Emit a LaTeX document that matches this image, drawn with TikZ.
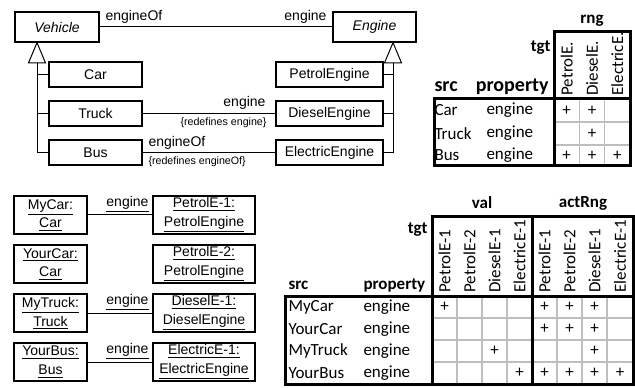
\documentclass[tikz,border=0pt]{standalone}
\usepackage{fontspec}
\setmainfont{Liberation Sans}
\newfontfamily\tabfont{Carlito}

\tikzset{every picture/.style={line width=0.75pt}}

\begin{document}
\begin{tikzpicture}[x=0.75pt,y=0.75pt,yscale=-1,xscale=1,
  cls/.style={draw, line width=1pt, inner sep=0pt, font=\fontsize{10.5}{12.6}\selectfont},
  obj/.style={draw, line width=1pt, inner sep=0pt, align=center, minimum height=28.5pt, font=\fontsize{10.5}{14.2}\selectfont},
  lbl/.style={inner sep=0.75pt, font=\fontsize{10.5}{12.6}\selectfont},
  small/.style={inner sep=0.75pt, font=\fontsize{8}{9}\selectfont},
  tab/.style={inner sep=0.75pt, font=\tabfont\fontsize{12.75}{15}\selectfont},
  tabb/.style={inner sep=0.75pt, font=\tabfont\bfseries\fontsize{12.75}{15}\selectfont},
  tabbig/.style={inner sep=0.75pt, font=\tabfont\bfseries\fontsize{15}{17}\selectfont},
  frame/.style={line width=2.25pt},
  gridline/.style={color={rgb, 255:red, 190; green, 190; blue, 190}, line width=1.1pt}
]
\path[use as bounding box] (0,0) rectangle (635,388);

%Shape: Class boxes
\node[cls, minimum width=63pt, minimum height=22.5pt] (vehicle) at (57,27) {\itshape Vehicle};
\node[cls, minimum width=62.25pt, minimum height=22.5pt] (engine) at (374.5,27) {\itshape Engine};
\node[cls, minimum width=69.75pt, minimum height=18.75pt] (car) at (95.5,74.5) {Car};
\node[cls, minimum width=69.75pt, minimum height=18.75pt] (truck) at (95.5,113.5) {Truck};
\node[cls, minimum width=69.75pt, minimum height=18.75pt] (bus) at (95.5,152.5) {Bus};
\node[cls, minimum width=80.25pt, minimum height=18.75pt] (petrol) at (329.5,74.5) {PetrolEngine};
\node[cls, minimum width=80.25pt, minimum height=18.75pt] (diesel) at (329.5,113.5) {DieselEngine};
\node[cls, minimum width=80.25pt, minimum height=18.75pt] (electric) at (329.5,152.5) {ElectricEngine};

%Straight Lines: generalizations
\coordinate (gv) at (37,63);
\coordinate (ge) at (393,63);
\foreach \c in {car,truck,bus} \draw (\c.west) -| (gv);
\foreach \c in {petrol,diesel,electric} \draw (\c.east) -| (ge);
\draw[fill=white] ([xshift=-6.4pt]gv) -- (vehicle.south -| gv) -- ([xshift=6.4pt]gv) -- cycle;
\draw[fill=white] ([xshift=-6.4pt]ge) -- (engine.south -| ge) -- ([xshift=6.4pt]ge) -- cycle;

%Straight Lines: associations
\draw (vehicle) -- (engine);
\draw (truck) -- (diesel);
\draw (bus) -- (electric);

% Text Node
\node[lbl, anchor=south west] (of1) at (104,25) {engineOf};
\node[lbl, anchor=south east] (en1) at (328,25) {engine};
\node[lbl, anchor=south east] (en2) at (267,111) {engine};
\node[small, anchor=north east] (rd1) at (268,116) {\{redefines engine\}};
\node[lbl, anchor=south west] (of2) at (147,151) {engineOf};
\node[small, anchor=north west] (rd2) at (147,155) {\{redefines engineOf\}};

%Shape: Object boxes
\node[obj, minimum width=54.75pt] (mycar) at (50.5,215) {\underline{MyCar:}\\\underline{Car}};
\node[obj, minimum width=54.75pt] (yourcar) at (50.5,264) {\underline{YourCar:}\\\underline{Car}};
\node[obj, minimum width=54.75pt] (mytruck) at (50.5,313) {\underline{MyTruck:}\\\underline{Truck}};
\node[obj, minimum width=54.75pt] (yourbus) at (50.5,362) {\underline{YourBus:}\\\underline{Bus}};
\node[obj, minimum width=76.5pt] (pe1) at (204,215) {\underline{PetrolE-1:}\\\underline{PetrolEngine}};
\node[obj, minimum width=76.5pt] (pe2) at (204,264) {\underline{PetrolE-2:}\\\underline{PetrolEngine}};
\node[obj, minimum width=76.5pt] (de1) at (204,313) {\underline{DieselE-1:}\\\underline{DieselEngine}};
\node[obj, minimum width=76.5pt] (ee1) at (204,362) {\underline{ElectricE-1:}\\\underline{ElectricEngine}};

%Straight Lines: links
\draw (mycar) -- (pe1);
\draw (mytruck) -- (de1);
\draw (yourbus) -- (ee1);
\node[lbl, anchor=south east] (ln1) at (150,214) {\underline{engine}};
\node[lbl, anchor=south east] (ln2) at (150,312) {\underline{engine}};
\node[lbl, anchor=south east] (ln3) at (150,361) {\underline{engine}};

%Table: rng
\foreach \y in {122,145} \draw[gridline] (554,\y) -- (630,\y);
\foreach \x in {579.3,604.7} \draw[gridline] (\x,99) -- (\x,166);
\draw[frame] (554,32) rectangle (630,166);
\draw[frame] (434,99) rectangle (630,166);
\node[tabb] (rng) at (592,21) {rng};
\node[tabb, anchor=east] (tgt1) at (552,48) {tgt};
\node[tabbig, anchor=west] (src1) at (433,87) {src};
\node[tabbig, anchor=east] (prop1) at (550,87) {property};
\foreach \x/\t [count=\i] in {566.7/PetrolE., 592/DieselE., 617.3/ElectricE.}
  \node[tab, rotate=90, anchor=west] (rh\i) at (\x,97) {\t};
\foreach \y/\s [count=\i] in {110.5/Car, 133.5/Truck, 155.5/Bus} {
  \node[tab, anchor=west] (rs\i) at (433,\y) {\s};
  \node[tab, anchor=west] (rp\i) at (485,\y) {engine};
}
\foreach \x/\y [count=\i] in {566.7/110.5, 592/110.5, 592/133.5, 566.7/155.5, 592/155.5, 617.3/155.5}
  \node[tab] (rplus\i) at (\x,\y) {+};

%Table: val and actRng
\foreach \y in {318,340,362} \draw[gridline] (432,\y) -- (633,\y);
\foreach \x in {457,482,507,557,582,607} \draw[gridline] (\x,296) -- (\x,384);
\draw[frame] (432,217) rectangle (532,296);
\draw[frame] (532,217) rectangle (633,296);
\draw[frame] (285,296) rectangle (633,384);
\draw[frame] (432,296) -- (432,384);
\draw[frame] (532,296) -- (532,384);
\node[tabb] (val) at (482,203) {val};
\node[tabb] (actrng) at (583,203) {actRng};
\node[tabb, anchor=east] (tgt2) at (429,230) {tgt};
\node[tabb, anchor=west] (src2) at (287,285) {src};
\node[tabb, anchor=west] (prop2) at (362,285) {property};
\foreach \x/\t [count=\i] in {444.5/PetrolE-1, 469.5/PetrolE-2, 494.5/DieselE-1, 519.5/ElectricE-1,
                              544.5/PetrolE-1, 569.5/PetrolE-2, 594.5/DieselE-1, 620/ElectricE-1}
  \node[tab, rotate=90, anchor=west] (vh\i) at (\x,294) {\t};
\foreach \y/\s [count=\i] in {307/MyCar, 329/YourCar, 351/MyTruck, 373/YourBus} {
  \node[tab, anchor=west] (vs\i) at (287,\y) {\s};
  \node[tab, anchor=west] (vp\i) at (362,\y) {engine};
}
\foreach \x/\y [count=\i] in {444.5/307, 544.5/307, 569.5/307, 594.5/307,
                              544.5/329, 569.5/329, 594.5/329,
                              494.5/351, 594.5/351,
                              519.5/373, 544.5/373, 569.5/373, 594.5/373, 620/373}
  \node[tab] (vplus\i) at (\x,\y) {+};

\end{tikzpicture}
\end{document}
